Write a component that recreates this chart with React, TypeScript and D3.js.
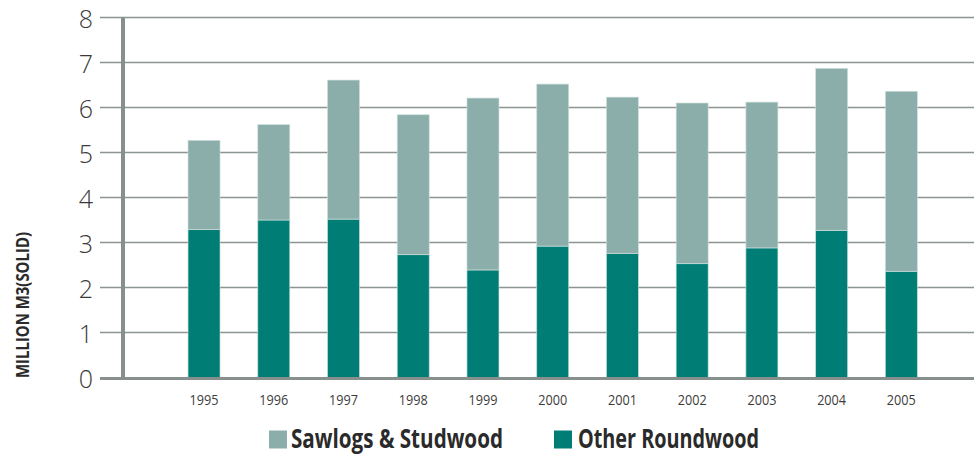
import React from "react";
import * as d3 from "d3";

// Roundwood removals, million m3 (solid), by year
const years = ["1995", "1996", "1997", "1998", "1999", "2000", "2001", "2002", "2003", "2004", "2005"];
const otherRoundwood = [3.29, 3.5, 3.52, 2.73, 2.39, 2.92, 2.76, 2.53, 2.88, 3.27, 2.36];
const sawlogsStudwood = [1.98, 2.12, 3.09, 3.11, 3.82, 3.6, 3.47, 3.57, 3.24, 3.6, 4.0];
const yTicks = [0, 1, 2, 3, 4, 5, 6, 7, 8];
const seriesKeys = ["other", "sawlogs"];
const seriesLabels = { sawlogs: "Sawlogs & Studwood", other: "Other Roundwood" };

const W = 974;
const H = 457;
const COLORS = { sawlogs: "#8caeab", other: "#007e76" };
const FONT = "'Open Sans', 'Noto Sans', sans-serif";

export default function App() {
  const rows = years.map((y, i) => ({ year: y, other: otherRoundwood[i], sawlogs: sawlogsStudwood[i] }));
  const stacked = d3.stack().keys(seriesKeys)(rows as any);

  const x = d3.scaleBand().domain(years).range([118.3, 987.1]).paddingInner(0.541).paddingOuter(1);
  const y = d3.scaleLinear().domain([0, 8]).range([377.5, 17.5]);

  const gridLeft = 100;
  const gridRight = W;
  const axisX = 123;

  return (
    <svg width={W} height={H} style={{ position: "absolute", left: 0, top: 0, background: "#fff" }}>
      {/* grid */}
      {yTicks.filter((t) => t > 0).map((t) => (
        <line key={t} x1={gridLeft} x2={gridRight} y1={y(t)} y2={y(t)} stroke="#8d9592" strokeWidth={1.6} />
      ))}
      {/* y tick labels */}
      {yTicks.map((t) => (
        <text key={t} x={93} y={y(t) + 10.8} textAnchor="end" fontFamily={FONT} fontWeight={300} fontSize={25} fill="#3a3a3a">
          {t}
        </text>
      ))}
      {/* bars */}
      {stacked.map((s) => (
        <g key={s.key} fill={(COLORS as any)[s.key]}>
          {s.map((d: any, i: number) => (
            <rect
              key={i}
              x={x(years[i])}
              width={x.bandwidth()}
              y={y(d[1])}
              height={y(d[0]) - y(d[1])}
              stroke="#cfe0dd"
              strokeWidth={0.8}
              strokeOpacity={0.8}
            />
          ))}
        </g>
      ))}
      {/* axes */}
      <line x1={axisX} x2={axisX} y1={y(8)} y2={y(0) + 1} stroke="#87908d" strokeWidth={4} />
      <line x1={gridLeft} x2={gridRight} y1={y(0) + 1} y2={y(0) + 1} stroke="#87908d" strokeWidth={3} />
      {/* x labels */}
      {years.map((yr) => (
        <text
          key={yr}
          x={(x(yr) as number) + x.bandwidth() / 2}
          y={404.5}
          textAnchor="middle"
          fontFamily={FONT}
          fontSize={15}
          fill="#3c3c3c"
          textLength={29}
          lengthAdjust="spacingAndGlyphs"
        >
          {yr}
        </text>
      ))}
      {/* y title */}
      <text
        transform="translate(28.5,305) rotate(-90)"
        textAnchor="middle"
        fontFamily={FONT}
        fontWeight={700}
        fontSize={17}
        fill="#2a2a2a"
        textLength={146}
        lengthAdjust="spacingAndGlyphs"
      >
        MILLION M3(SOLID)
      </text>
      {/* legend */}
      <rect x={269} y={430.5} width={18} height={18} fill={COLORS.sawlogs} />
      <text x={291} y={448.3} fontFamily={FONT} fontWeight={700} fontSize={27} fill="#2a2a2a" textLength={212} lengthAdjust="spacingAndGlyphs">
        {seriesLabels.sawlogs}
      </text>
      <rect x={554} y={430.5} width={18} height={18} fill={COLORS.other} />
      <text x={578} y={448.3} fontFamily={FONT} fontWeight={700} fontSize={27} fill="#2a2a2a" textLength={181} lengthAdjust="spacingAndGlyphs">
        {seriesLabels.other}
      </text>
    </svg>
  );
}
